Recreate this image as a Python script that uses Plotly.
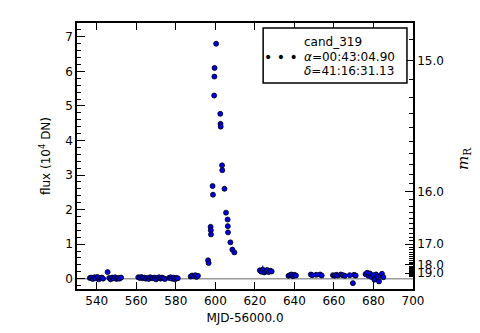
import numpy as np
import plotly.graph_objects as go

# light curve of cand_319, MJD-56000 vs flux (10^4 DN)
mjd = [536.5, 537.2, 538.0, 538.8, 539.5, 540.3, 541.0, 541.8, 542.5, 543.2,
       545.5,
       546.3, 547.0, 547.8, 548.5, 549.3, 550.0, 550.8, 551.5, 552.3,
       561.0, 561.8, 562.5, 563.3, 564.0, 564.8, 565.5, 566.3, 567.0, 567.8,
       568.5, 569.3, 570.0, 570.8, 571.5, 572.3, 573.0, 573.8, 574.5,
       576.5, 577.3, 578.0, 578.8, 579.5, 580.3, 581.0,
       587.5, 588.2, 589.0, 589.8, 590.5, 591.2,
       596.3, 596.6, 597.6, 597.7, 597.8, 598.6, 598.8, 599.4, 599.5, 599.6,
       600.4, 602.5, 602.6, 602.7, 603.4, 603.5, 604.6, 605.4, 606.2, 606.3,
       606.4, 607.6, 608.6, 609.6,
       622.5, 623.3, 624.0, 624.8, 625.5, 626.2, 627.0, 627.8, 628.5,
       637.0, 637.8, 638.5, 639.3, 640.0, 640.8,
       648.3, 649.0, 651.0, 653.0, 653.8,
       659.5, 660.3, 661.2, 662.0, 663.5, 664.5, 665.5,
       668.0, 669.6, 670.2, 671.0,
       676.0, 676.8, 677.5, 678.2, 679.0, 679.8, 680.5, 681.3, 682.0, 682.8,
       683.6, 684.3, 685.0]
flux = [0.02, 0.03, -0.01, 0.04, 0.01, 0.05, -0.02, 0.02, 0.03, 0.00,
        0.19,
        0.02, -0.02, 0.03, 0.01, 0.04, -0.01, 0.02, 0.00, 0.03,
        0.04, 0.02, 0.05, 0.01, 0.03, 0.00, 0.02, -0.01, 0.04, 0.02,
        0.01, 0.03, -0.02, 0.02, 0.04, 0.00, 0.03, 0.01, -0.01,
        0.02, 0.04, 0.00, 0.03, -0.02, 0.02, 0.01,
        0.06, 0.09, 0.07, 0.10, 0.05, 0.08,
        0.53, 0.45, 1.50, 1.40, 1.28, 2.68, 2.43, 5.30, 5.85, 6.10,
        6.80, 4.77, 4.48, 4.40, 3.28, 3.14, 2.60, 1.91, 1.71, 1.52,
        1.34, 1.05, 0.84, 0.76,
        0.24, 0.20, 0.26, 0.18, 0.22, 0.25, 0.19, 0.23, 0.21,
        0.08, 0.10, 0.12, 0.07, 0.11, 0.09,
        0.12, 0.10, 0.11, 0.12, 0.09,
        0.10, 0.08, 0.11, 0.09, 0.12, 0.10, 0.08,
        0.10, -0.13, 0.11, 0.09,
        0.13, 0.17, 0.08, 0.15, 0.05, 0.10, -0.03, 0.12, 0.06, -0.08,
        0.09, 0.14, 0.04]
flux_err = [0.05, 0.04, 0.05, 0.04, 0.05, 0.04, 0.05, 0.04, 0.05, 0.04,
            0.05,
            0.05, 0.04, 0.05, 0.04, 0.05, 0.04, 0.05, 0.04, 0.05,
            0.04, 0.05, 0.04, 0.05, 0.04, 0.05, 0.04, 0.05, 0.04, 0.05,
            0.04, 0.05, 0.04, 0.05, 0.04, 0.05, 0.04, 0.05, 0.04,
            0.05, 0.04, 0.05, 0.04, 0.05, 0.04, 0.05,
            0.05, 0.04, 0.05, 0.04, 0.05, 0.04,
            0.05, 0.05, 0.05, 0.05, 0.05, 0.06, 0.06, 0.06, 0.06, 0.06,
            0.07, 0.06, 0.06, 0.06, 0.06, 0.06, 0.06, 0.05, 0.05, 0.05,
            0.05, 0.05, 0.05, 0.05,
            0.05, 0.06, 0.12, 0.05, 0.06, 0.05, 0.06, 0.05, 0.06,
            0.04, 0.05, 0.04, 0.05, 0.04, 0.05,
            0.04, 0.05, 0.04, 0.05, 0.04,
            0.04, 0.05, 0.04, 0.05, 0.04, 0.05, 0.04,
            0.05, 0.05, 0.05, 0.05,
            0.06, 0.08, 0.06, 0.07, 0.06, 0.07, 0.06, 0.08, 0.06, 0.07,
            0.06, 0.07, 0.06]

# magnitude axis
ZP = 27.0
mag_major = [15.0, 16.0, 17.0, 18.0, 19.0]
mag_minor = [round(14.8 + 0.1 * i, 1) for i in range(52)]

legend_lines = ["cand_319", "<i>α</i>=00:43:04.90", "<i>δ</i>=41:16:31.13"]


def mag2flux(m):
    return 10 ** (-0.4 * (np.asarray(m) - ZP)) / 1e4


FONT = "DejaVu Sans"
yr = [-0.3, 7.4]

fig = go.Figure()
fig.add_trace(go.Scatter(
    x=mjd, y=flux, mode="markers",
    error_y=dict(type="data", array=flux_err, color="#0000ff", thickness=1, width=0),
    marker=dict(size=5, color="#0000ee", line=dict(color="black", width=0.8)),
    showlegend=False))
# invisible trace to bring up the magnitude axis
fig.add_trace(go.Scatter(x=[mjd[0]], y=[flux[0]], yaxis="y2", mode="markers",
                         marker=dict(opacity=0), showlegend=False, hoverinfo="skip"))

fig.add_shape(type="line", xref="paper", x0=0, x1=1, yref="y", y0=0, y1=0,
              line=dict(color="#999999", width=1.5), layer="below")

# legend box
fig.add_shape(type="rect", xref="paper", yref="paper", x0=0.554, x1=0.982, y0=0.774, y1=0.981,
              line=dict(color="black", width=1.5), fillcolor="white")
for i, line in enumerate(legend_lines):
    fig.add_annotation(xref="paper", yref="paper", x=0.67, y=0.93 - i * 0.056,
                       xanchor="left", yanchor="middle", text=line, showarrow=False,
                       font=dict(family=FONT, size=12, color="black"))
fig.add_annotation(xref="paper", yref="paper", x=0.608, y=0.872, xanchor="center", yanchor="middle",
                   text="• • •", showarrow=False, font=dict(family=FONT, size=14, color="black"))
fig.add_annotation(xref="paper", yref="paper", x=1.15, y=0.49, textangle=-90,
                   xanchor="center", yanchor="middle",
                   text="<i>m</i><sub>R</sub>", showarrow=False,
                   font=dict(family="DejaVu Serif", size=15, color="black"))

axis_common = dict(showline=True, linecolor="black", linewidth=1.5, ticks="inside",
                   tickcolor="black", showgrid=False, zeroline=False, automargin=False,
                   tickfont=dict(family=FONT, size=12, color="black"))

# page body adds an 8px offset, margins compensate for it
fig.update_layout(
    width=480, height=333, margin=dict(l=69, r=75, t=15, b=52),
    paper_bgcolor="white", plot_bgcolor="white",
    xaxis=dict(range=[530, 700], dtick=20, tick0=540, ticklen=7, mirror="ticks",
               title=dict(text="MJD-56000.0", font=dict(family=FONT, size=12, color="black"), standoff=6),
               **axis_common),
    yaxis=dict(range=yr, dtick=1, ticklen=8, mirror=True,
               minor=dict(dtick=0.2, ticklen=4, ticks="inside", tickcolor="black"),
               title=dict(text="flux (10<sup>4</sup> DN)", font=dict(family=FONT, size=12, color="black"), standoff=12),
               **axis_common),
    yaxis2=dict(range=yr, overlaying="y", side="right", anchor="x",
                tickmode="array", tickvals=mag2flux(mag_major).tolist(),
                ticktext=["%.1f" % m for m in mag_major], ticklen=8,
                minor=dict(tickmode="array", tickvals=mag2flux(mag_minor).tolist(),
                           ticklen=4, ticks="inside", tickcolor="black"),
                **axis_common),
)

fig.write_html("out.html")
